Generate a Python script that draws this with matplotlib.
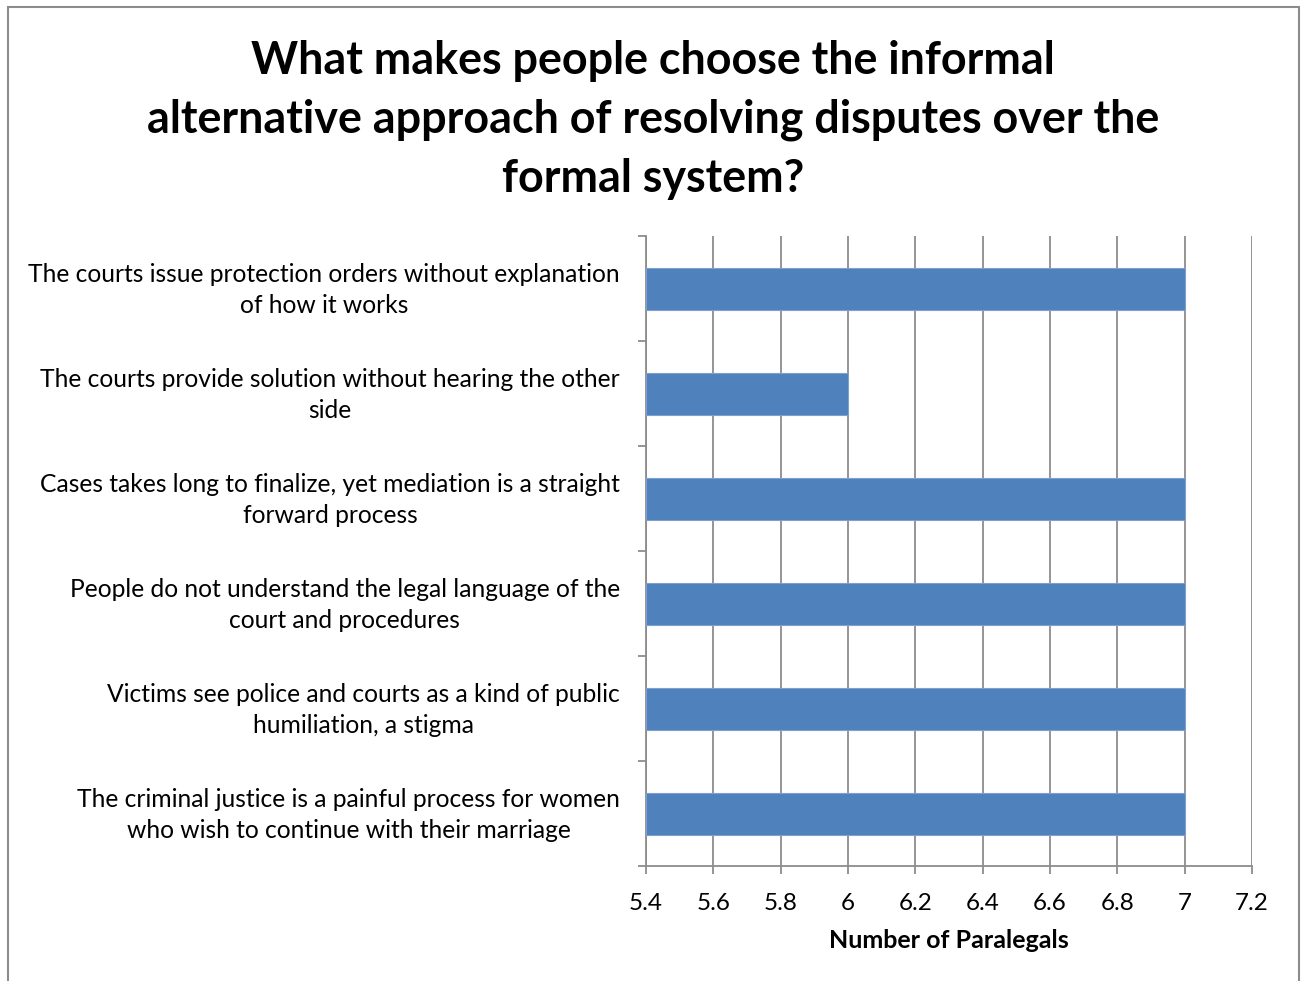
import matplotlib
matplotlib.use("Agg")
import matplotlib.pyplot as plt
import matplotlib.transforms as mtransforms
import numpy as np
from matplotlib.patches import Rectangle

# 数据（从上到下的顺序）
categories = [
    "The courts issue protection orders without explanation\nof how it works",
    "The courts provide solution without hearing the other\nside",
    "Cases takes long to finalize, yet mediation is a straight\nforward process",
    "People do not understand the legal language of the\ncourt and procedures",
    "Victims see police and courts as a kind of public\nhumiliation, a stigma",
    "The criminal justice is a painful process for women\nwho wish to continue with their marriage",
]
values = [7, 6, 7, 7, 7, 7]
x_ticks = [5.4, 5.6, 5.8, 6.0, 6.2, 6.4, 6.6, 6.8, 7.0, 7.2]
x_tick_labels = ["5.4", "5.6", "5.8", "6", "6.2", "6.4", "6.6", "6.8", "7", "7.2"]

title = ("What makes people choose the informal\n"
         "alternative approach of resolving disputes over the\n"
         "formal system?")

plt.rcParams['font.family'] = ['Lato', 'DejaVu Sans']

bar_color = "#4F81BD"
grid_color = "#8C8C8C"

fig = plt.figure(figsize=(13.03, 9.81), dpi=100)

# 外框
fig.patches.append(Rectangle((8 / 1303, -0.05), 1291 / 1303, 1.05 - 7 / 981,
                             transform=fig.transFigure, fill=False,
                             edgecolor="#8C8C8C", linewidth=1.5))

ax = fig.add_axes([646 / 1303, 1 - 866 / 981, (1252 - 646) / 1303, (866 - 236) / 981])

y = np.arange(len(categories))
ax.barh(y, np.array(values) - 5.4, left=5.4, height=0.4, color=bar_color,
        edgecolor="#7FA0CF", linewidth=0.8, zorder=3)

ax.set_xlim(5.4, 7.2)
ax.set_ylim(len(categories) - 0.5, -0.5)

ax.set_xticks(x_ticks)
ax.set_xticklabels(x_tick_labels, fontsize=17.5)
ax.set_yticks(y)
ax.set_yticklabels([])
ax.set_yticks(np.arange(-0.5, len(categories)), minor=True)

# 类别标签用文本画，方便微调位置
label_trans = ax.get_yaxis_transform() + mtransforms.ScaledTranslation(
    -26 / 100, -1.5 / 100, fig.dpi_scale_trans)
for yi, cat in zip(y, categories):
    ax.text(0, yi, cat, transform=label_trans, ha="right", va="center",
            multialignment="center", fontsize=17.7, linespacing=1.45)

ax.tick_params(axis="y", which="major", length=0)
ax.tick_params(axis="y", which="minor", length=6, color=grid_color, width=1.3)
ax.tick_params(axis="x", which="major", length=6, color=grid_color, width=1.3, pad=13.5)

ax.grid(axis="x", color=grid_color, linewidth=1.3, zorder=0)
ax.set_axisbelow(True)

for side in ["top", "right"]:
    ax.spines[side].set_visible(False)
for side in ["left", "bottom"]:
    ax.spines[side].set_color(grid_color)
    ax.spines[side].set_linewidth(1.3)

ax.set_xlabel("Number of Paralegals", fontsize=18, fontweight="bold", labelpad=11)

fig.text(653 / 1303, 1 - 120 / 981, title, ha="center", va="center",
         fontsize=32.3, fontweight="bold", linespacing=1.5)

fig.savefig("out.png", dpi=100)
